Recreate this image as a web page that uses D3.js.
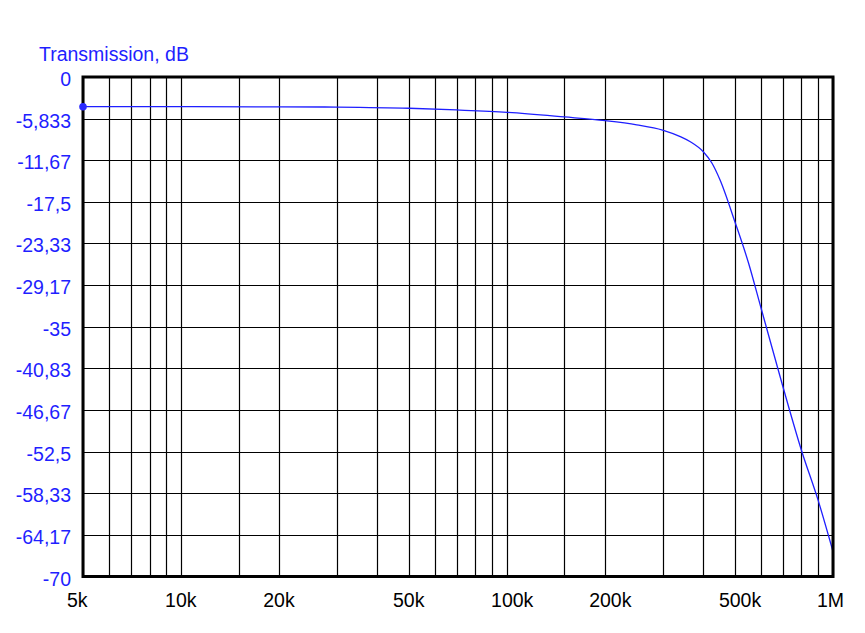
<!DOCTYPE html>
<html><head><meta charset="utf-8">
<script src="https://cdn.jsdelivr.net/npm/d3@7"></script>
<style>
html,body{margin:0;padding:0;background:#fff;}
svg{display:block;font-family:"Liberation Sans",Arial,sans-serif;}
</style></head>
<body>
<svg id="chart" width="865" height="633"></svg>
<script>
// Data
const freqs = [5000, 10000, 20000, 30000, 50000, 70000, 100000, 150000, 200000, 250000, 300000, 340000, 365000, 400000, 425000, 450000, 500000, 550000, 600000, 700000, 800000, 900000, 1000000];
const transmission = [-4.16, -4.16, -4.18, -4.22, -4.38, -4.62, -4.95, -5.6, -6.12, -6.7, -7.43, -8.35, -9.07, -10.47, -12.05, -14.4, -20.28, -26.0, -32.2, -43.2, -52.3, -59.3, -66.5];
const xTickValues = [5000, 10000, 20000, 50000, 100000, 200000, 500000, 1000000];
const xTickLabels = ["5k", "10k", "20k", "50k", "100k", "200k", "500k", "1M"];
const xGridValues = [5000, 6000, 7000, 8000, 9000, 10000, 15000, 20000, 30000, 40000, 50000, 60000, 70000, 80000, 90000, 100000, 150000, 200000, 300000, 400000, 500000, 600000, 700000, 800000, 900000, 1000000];
const yTickValues = [0, -5.833, -11.67, -17.5, -23.33, -29.17, -35, -40.83, -46.67, -52.5, -58.33, -64.17, -70];
const yTickLabels = ["0", "-5,833", "-11,67", "-17,5", "-23,33", "-29,17", "-35", "-40,83", "-46,67", "-52,5", "-58,33", "-64,17", "-70"];
const yTitle = "Transmission, dB";

const svg = d3.select("#chart");
const L = 83, R = 833, T = 77, B = 576.5;
const x = d3.scaleLog().domain([5000, 1000000]).range([L, R]);
const y = d3.scaleLinear().domain([0, -70]).range([T, B]);
const blue = "#1f1fff";
const fs = 19.5;

// grid
const g = svg.append("g");
g.selectAll("line.vg").data(xGridValues).join("line")
  .attr("x1", d => Math.round(x(d)) + 0.5).attr("x2", d => Math.round(x(d)) + 0.5)
  .attr("y1", T).attr("y2", B)
  .attr("stroke", "#000").attr("stroke-width", 1.2);
g.selectAll("line.hg").data(yTickValues).join("line")
  .attr("y1", d => Math.round(y(d)) + 0.5).attr("y2", d => Math.round(y(d)) + 0.5)
  .attr("x1", L).attr("x2", R)
  .attr("stroke", "#000").attr("stroke-width", 1.2);

// curve
const line = d3.line().x((d, i) => x(freqs[i])).y(d => y(d)).curve(d3.curveMonotoneX);
svg.append("path").datum(transmission).attr("d", line)
  .attr("fill", "none").attr("stroke", blue).attr("stroke-width", 1.3);

// frame
svg.append("rect").attr("x", L).attr("y", T).attr("width", R - L).attr("height", B - T)
  .attr("fill", "none").attr("stroke", "#000").attr("stroke-width", 3);

// start marker (drawn over the frame)
svg.append("circle").attr("cx", x(freqs[0])).attr("cy", y(transmission[0])).attr("r", 3.8).attr("fill", "#2a2aff");

// y labels
svg.selectAll("text.yl").data(yTickValues).join("text")
  .attr("x", 71).attr("y", d => y(d) + 9)
  .attr("text-anchor", "end").attr("fill", blue).attr("font-size", fs)
  .text((d, i) => yTickLabels[i]);

// x labels
svg.selectAll("text.xl").data(xTickValues).join("text")
  .attr("x", d => x(d) - 16).attr("y", 607)
  .attr("text-anchor", "start").attr("fill", "#000").attr("font-size", fs)
  .text((d, i) => xTickLabels[i]);

// title
svg.append("text").attr("x", 39).attr("y", 61).attr("fill", blue).attr("font-size", fs).text(yTitle);
</script>
</body></html>
